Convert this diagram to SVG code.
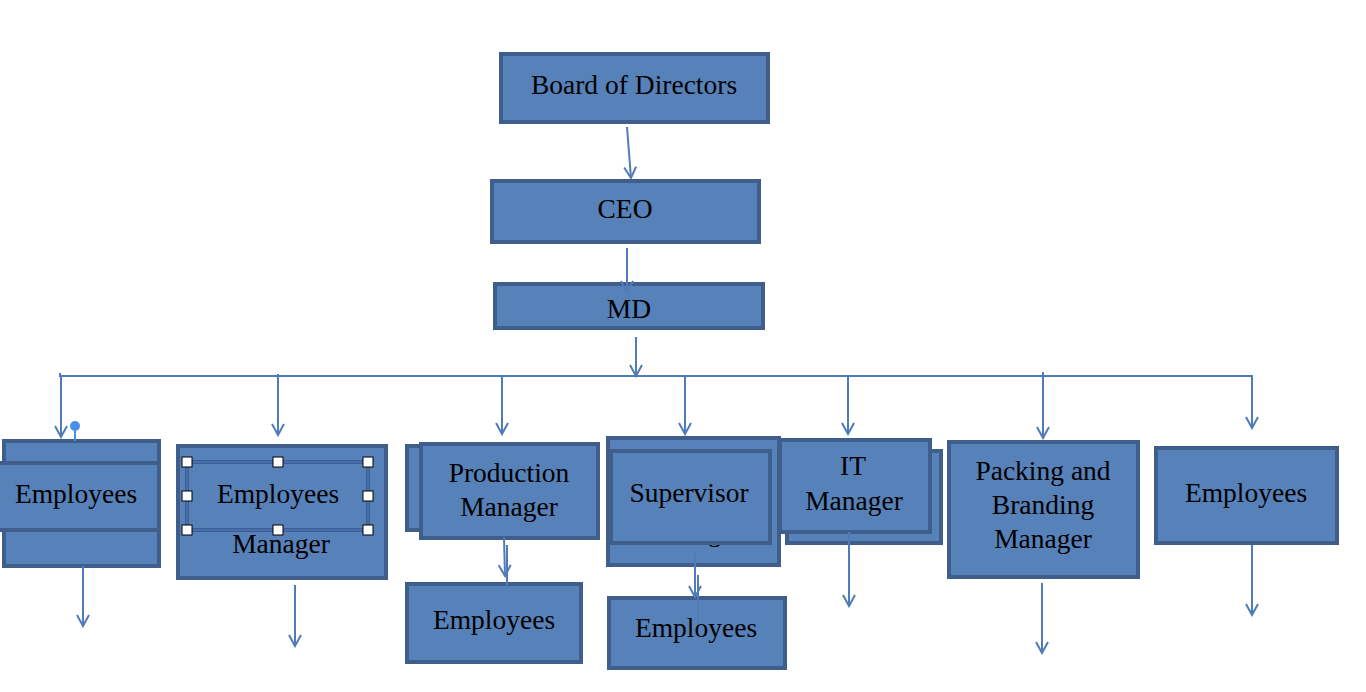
<svg xmlns="http://www.w3.org/2000/svg" width="1366" height="692" viewBox="0 0 1366 692">
<style>
.box{fill:#5781b9;stroke:#3f5e8b;stroke-width:4;}
.t{font-family:"Liberation Serif","Times New Roman",serif;font-size:27.5px;fill:#000;text-anchor:middle;}
.c{stroke:#4f7bba;stroke-width:2;fill:none;}
.h{fill:#fff;stroke:#000;stroke-width:1;}
</style>
<defs>
<marker id="ah" markerWidth="14" markerHeight="14" refX="12" refY="7" orient="auto" markerUnits="userSpaceOnUse" viewBox="0 0 14 14">
<path d="M1,1 L12,7 L1,13" fill="none" stroke="#4f7bba" stroke-width="2"/>
</marker>
</defs>
<rect width="1366" height="692" fill="#fff"/>

<g id="board"><rect class="box" x="501" y="54" width="267" height="68"/><text class="t" x="634" y="94">Board of Directors</text></g>
<g id="ceo"><rect class="box" x="492" y="181" width="267" height="61"/><text class="t" x="625" y="218">CEO</text></g>
<g id="md"><rect class="box" x="495" y="284" width="268" height="44"/><text class="t" x="629" y="318">MD</text></g>

<g id="emp-left">
<rect class="box" x="4" y="441" width="155" height="125"/>
<rect class="box" x="-6" y="463" width="165" height="67"/>
<text class="t" x="76" y="503">Employees</text>
<line x1="75" y1="430" x2="75" y2="441" stroke="#4a8fe7" stroke-width="2"/>
<circle cx="75" cy="426" r="5" fill="#4a8fe7"/>
</g>

<g id="emp-manager">
<rect class="box" x="178" y="446" width="208" height="132"/>
<text class="t" x="281" y="553">Manager</text>
<rect x="187" y="462" width="181" height="68" fill="#5781b9" stroke="#3f5e8b" stroke-width="4"/>
<rect x="187" y="462" width="181" height="68" fill="none" stroke="#4a74c2" stroke-width="1.5"/>
<text class="t" x="278" y="503">Employees</text>
<rect class="h" x="182" y="457" width="10" height="10"/>
<rect class="h" x="273" y="457" width="10" height="10"/>
<rect class="h" x="363" y="457" width="10" height="10"/>
<rect class="h" x="182" y="491" width="10" height="10"/>
<rect class="h" x="363" y="491" width="10" height="10"/>
<rect class="h" x="182" y="525" width="10" height="10"/>
<rect class="h" x="273" y="525" width="10" height="10"/>
<rect class="h" x="363" y="525" width="10" height="10"/>
</g>

<g id="production">
<rect class="box" x="407" y="446" width="150" height="84"/>
<rect class="box" x="421" y="444" width="177" height="94"/>
<text class="t" x="509" y="482">Production</text>
<text class="t" x="509" y="516">Manager</text>
</g>
<g id="prod-emp"><rect class="box" x="407" y="584" width="174" height="78"/><text class="t" x="494" y="629">Employees</text></g>

<g id="supervisor">
<rect class="box" x="608" y="438" width="171" height="127"/>
<text class="t" x="694" y="541">Manager</text>
<rect class="box" x="611" y="451" width="159" height="92"/>
<text class="t" x="689" y="502">Supervisor</text>
</g>
<g id="sup-emp"><rect class="box" x="609" y="598" width="176" height="70"/><text class="t" x="696" y="637">Employees</text></g>

<g id="it">
<rect class="box" x="787" y="451" width="154" height="92"/>
<rect class="box" x="780" y="440" width="150" height="92"/>
<text class="t" x="853" y="475">IT</text>
<text class="t" x="854" y="510">Manager</text>
</g>

<g id="packing">
<rect class="box" x="949" y="442" width="189" height="135"/>
<text class="t" x="1043" y="480">Packing and</text>
<text class="t" x="1043" y="514">Branding</text>
<text class="t" x="1043" y="548">Manager</text>
</g>

<g id="emp-right"><rect class="box" x="1156" y="448" width="181" height="95"/><text class="t" x="1246" y="502">Employees</text></g>

<g id="connectors">
<line class="c" x1="627" y1="127" x2="631" y2="178" marker-end="url(#ah)"/>
<line class="c" x1="627" y1="248" x2="627" y2="292" marker-end="url(#ah)"/>
<line class="c" x1="636" y1="337" x2="636" y2="376" marker-end="url(#ah)"/>
<polyline class="c" points="60,376 1252,376 1252,428" marker-end="url(#ah)"/>
<line class="c" x1="60" y1="373" x2="60" y2="377"/>
<line class="c" x1="61" y1="376" x2="61" y2="437" marker-end="url(#ah)"/>
<line class="c" x1="278" y1="374" x2="278" y2="435" marker-end="url(#ah)"/>
<line class="c" x1="502" y1="376" x2="502" y2="434" marker-end="url(#ah)"/>
<line class="c" x1="685" y1="376" x2="685" y2="434" marker-end="url(#ah)"/>
<line class="c" x1="848" y1="376" x2="848" y2="434" marker-end="url(#ah)"/>
<line class="c" x1="1043" y1="372" x2="1043" y2="438" marker-end="url(#ah)"/>
<line class="c" x1="83" y1="566" x2="83" y2="626" marker-end="url(#ah)"/>
<line class="c" x1="295" y1="585" x2="295" y2="646" marker-end="url(#ah)"/>
<line class="c" x1="504" y1="537" x2="505" y2="576" marker-end="url(#ah)"/>
<line class="c" x1="507" y1="545" x2="507" y2="588"/>
<line class="c" x1="695" y1="552" x2="695" y2="597" marker-end="url(#ah)"/>
<line class="c" x1="698" y1="575" x2="698" y2="622"/>
<line class="c" x1="849" y1="532" x2="849" y2="606" marker-end="url(#ah)"/>
<line class="c" x1="1042" y1="583" x2="1042" y2="653" marker-end="url(#ah)"/>
<line class="c" x1="1252" y1="545" x2="1252" y2="615" marker-end="url(#ah)"/>
</g>
</svg>
